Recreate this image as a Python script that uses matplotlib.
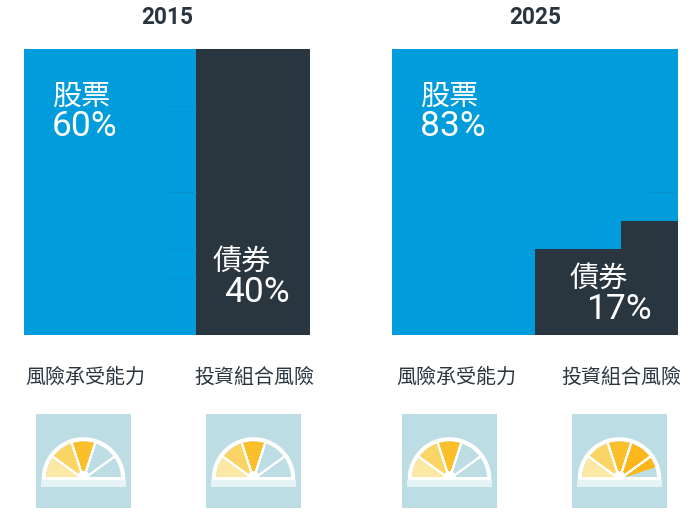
import matplotlib
matplotlib.use('Agg')
import matplotlib.pyplot as plt
from matplotlib.patches import Wedge, Rectangle

W, H = 700, 523
BLUE = '#009cdc'
DARK = '#29363f'
PANEL = '#bddde5'
STRIP = '#e6f3f4'
SEAM = '#0a8fc4'

years = ['2015', '2025']
stock_pct = [60, 83]
bond_pct = [40, 17]
stock_label = '股票'
bond_label = '債券'
risk_labels = ['風險承受能力', '投資組合風險']

# 10 x 10 waffle, bond cells per column
bond_cols_2015 = [0, 0, 0, 0, 0, 0, 10, 10, 10, 10]
bond_cols_2025 = [0, 0, 0, 0, 0, 3, 3, 3, 4, 4]

# gauge segments, left to right: fill share of each one
seg_colors = ['#fae8a4', '#fad565', '#fbbf2c', '#fdb71c', '#fdb71c']
gauge_2015_tol = [1, 1, 1, 0, 0]
gauge_2015_risk = [1, 1, 1, 0, 0]
gauge_2025_tol = [1, 1, 1, 0, 0]
gauge_2025_risk = [1, 1, 1, 1, 0.5]


def px_axes(fig, x0, y0, x1, y1):
    # y measured from the top of the picture
    return fig.add_axes([x0 / W, 1 - y1 / H, (x1 - x0) / W, (y1 - y0) / H])


def waffle(fig, x0, bond_cols, seams):
    ax = px_axes(fig, x0, 49, x0 + 286, 335)
    cols = list(range(10))
    ax.bar(cols, [10] * 10, width=1.0, align='edge', color=BLUE, linewidth=0)
    ax.bar(cols, bond_cols, width=1.0, align='edge', color=DARK, linewidth=0)
    for y, c0, c1 in seams:
        ax.plot([c0, c1], [y, y], color=SEAM, lw=0.5)
    ax.set_xlim(0, 10)
    ax.set_ylim(0, 10)
    ax.axis('off')


def gauge(fig, x0, fills):
    ax = px_axes(fig, x0, 414, x0 + 95, 508)
    ax.set_xlim(-47.5, 47.5)
    ax.set_ylim(-29, 65)
    ax.axis('off')
    ax.add_patch(Rectangle((-47.5, -29), 95, 94, color=PANEL, lw=0))
    ax.add_patch(Wedge((0, 0), 41.8, 0, 180, color='white', lw=0))
    for i, share in enumerate(fills):
        a0 = 180 - 36 * i
        a1 = a0 - 36
        ax.add_patch(Wedge((0, 0), 37.6, a1, a0, color=PANEL, lw=0))
        if share > 0:
            ax.add_patch(Wedge((0, 0), 37.6, a0 - 36 * share, a0, color=seg_colors[i], lw=0))
    for a in [36, 72, 108, 144]:
        ax.add_patch(Wedge((0, 0), 40, a - 0.01, a + 0.01, color='white', lw=1.4))
    ax.add_patch(Rectangle((-41.8, -1), 83.6, 3, color='white', lw=0))
    ax.add_patch(Wedge((0, 2), 6, 0, 180, color='white', lw=0))
    ax.add_patch(Rectangle((-42.5, -7.5), 85, 6.5, color=STRIP, lw=0))


fig = plt.figure(figsize=(W / 100, H / 100), dpi=100)
plt.rcParams['font.family'] = ['Roboto', 'Noto Sans CJK TC', 'DejaVu Sans']
CJK = ['Noto Sans CJK TC', 'DejaVu Sans']
NUM = ['Roboto', 'DejaVu Sans']


def put(x, y, s, **kw):
    fig.text(x / W, 1 - y / H, s, va='center', **kw)


waffle(fig, 24, bond_cols_2015, [(8, 5, 6), (5, 5, 6), (3, 5, 6), (2, 5, 6)])
waffle(fig, 392, bond_cols_2025, [(5, 9, 10)])

put(167.5, 17, years[0], ha='center', fontsize=16.3, fontweight='bold', color=DARK, family=NUM)
put(535.5, 17, years[1], ha='center', fontsize=16.3, fontweight='bold', color=DARK, family=NUM)

put(52, 96.5, stock_label, ha='left', fontsize=21, color='white', family=CJK)
put(52, 126.5, f'{stock_pct[0]}%', ha='left', fontsize=25.5, color='white', family=NUM)
put(420, 96.5, stock_label, ha='left', fontsize=21, color='white', family=CJK)
put(420, 126.5, f'{stock_pct[1]}%', ha='left', fontsize=25.5, color='white', family=NUM)
put(213, 262, bond_label, ha='left', fontsize=21, color='white', family=CJK)
put(224, 292.5, f'{bond_pct[0]}%', ha='left', fontsize=25.5, color='white', family=NUM)
put(569.5, 279, bond_label, ha='left', fontsize=21, color='white', family=CJK)
put(586, 309.5, f'{bond_pct[1]}%', ha='left', fontsize=25.5, color='white', family=NUM)

for x, s in zip([85, 254, 456.5, 621], risk_labels * 2):
    put(x, 377.5, s, ha='center', fontsize=14.4, fontweight='medium', color=DARK, family=CJK)

gauge(fig, 36, gauge_2015_tol)
gauge(fig, 206, gauge_2015_risk)
gauge(fig, 402, gauge_2025_tol)
gauge(fig, 572, gauge_2025_risk)

fig.savefig('out.png', dpi=100)
